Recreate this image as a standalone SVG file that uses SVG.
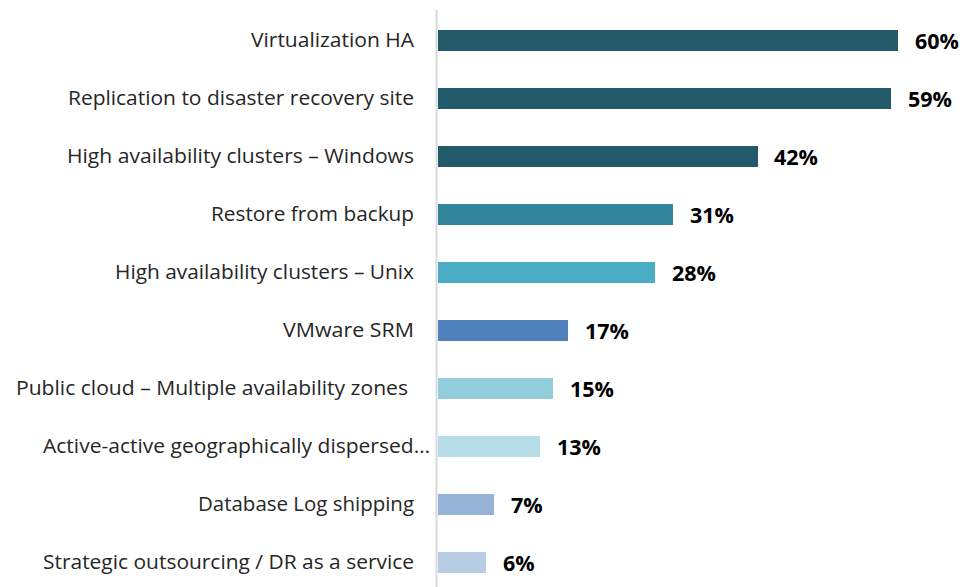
<svg xmlns="http://www.w3.org/2000/svg" width="964" height="587" viewBox="0 0 964 587">
<style>
.lbl{font-family:"Open Sans","Liberation Sans",Arial,sans-serif;font-size:20px;fill:#262626;text-anchor:end}
.val{font-family:"Open Sans","Liberation Sans",Arial,sans-serif;font-size:21.5px;font-weight:bold;fill:#000}
</style>
<rect width="964" height="587" fill="#fff"/>
<g id="axis"><line x1="436.5" y1="10" x2="436.5" y2="587" stroke="#D9D9D9" stroke-width="2"/></g>
<g id="bar1"><rect x="438" y="30" width="460" height="21" fill="#235A69"/><text class="lbl" x="414" y="47" textLength="163" lengthAdjust="spacingAndGlyphs">Virtualization HA</text><text class="val" x="915" y="49">60%</text></g>
<g id="bar2"><rect x="438" y="88" width="453" height="21" fill="#235A69"/><text class="lbl" x="414" y="105" textLength="346" lengthAdjust="spacingAndGlyphs">Replication to disaster recovery site</text><text class="val" x="908" y="107">59%</text></g>
<g id="bar3"><rect x="438" y="146" width="320" height="21" fill="#235A69"/><text class="lbl" x="414" y="163" textLength="347" lengthAdjust="spacingAndGlyphs">High availability clusters – Windows</text><text class="val" x="774" y="165">42%</text></g>
<g id="bar4"><rect x="438" y="204" width="235" height="21" fill="#31869B"/><text class="lbl" x="414" y="221" textLength="203" lengthAdjust="spacingAndGlyphs">Restore from backup</text><text class="val" x="690" y="223">31%</text></g>
<g id="bar5"><rect x="438" y="262" width="217" height="21" fill="#4BACC6"/><text class="lbl" x="414" y="279" textLength="299" lengthAdjust="spacingAndGlyphs">High availability clusters – Unix</text><text class="val" x="672" y="281">28%</text></g>
<g id="bar6"><rect x="438" y="320" width="130" height="21" fill="#4F81BD"/><text class="lbl" x="414" y="337" textLength="131" lengthAdjust="spacingAndGlyphs">VMware SRM</text><text class="val" x="585" y="339">17%</text></g>
<g id="bar7"><rect x="438" y="378" width="115" height="21" fill="#92CDDC"/><text class="lbl" x="408" y="395" textLength="392" lengthAdjust="spacingAndGlyphs">Public cloud – Multiple availability zones</text><text class="val" x="570" y="397">15%</text></g>
<g id="bar8"><rect x="438" y="436" width="102" height="21" fill="#B7DEE8"/><text class="lbl" x="430" y="453" textLength="387" lengthAdjust="spacingAndGlyphs">Active-active geographically dispersed…</text><text class="val" x="557" y="455">13%</text></g>
<g id="bar9"><rect x="438" y="494" width="56" height="21" fill="#95B3D7"/><text class="lbl" x="414" y="511" textLength="216" lengthAdjust="spacingAndGlyphs">Database Log shipping</text><text class="val" x="511" y="513">7%</text></g>
<g id="bar10"><rect x="438" y="552" width="48" height="21" fill="#B8CCE4"/><text class="lbl" x="414" y="569" textLength="371" lengthAdjust="spacingAndGlyphs">Strategic outsourcing / DR as a service</text><text class="val" x="503" y="571">6%</text></g>
</svg>
